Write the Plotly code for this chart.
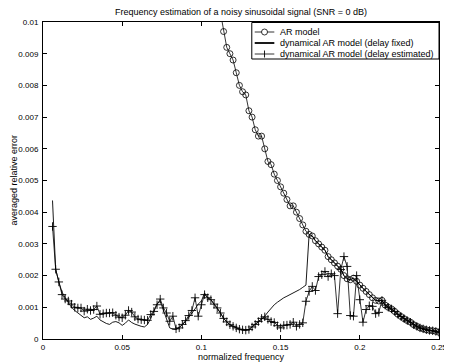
import plotly.graph_objects as go

# ---------------- data ----------------
step = 0.002

ar_start = 0.112
ar_err = [0.0103, 0.0097, 0.0092, 0.0090, 0.0088, 0.0084, 0.0080, 0.0078, 0.0077, 0.0072,
          0.0070, 0.0066, 0.0064, 0.0064, 0.0060, 0.0056, 0.0055, 0.0052, 0.0050, 0.0048,
          0.0046, 0.0044, 0.0042, 0.0042, 0.0040, 0.0038, 0.0036, 0.0034, 0.0033, 0.00325,
          0.0031, 0.0030, 0.0029, 0.0028, 0.0026, 0.0025, 0.0024, 0.0023, 0.0022, 0.0020,
          0.0019, 0.00187, 0.00192, 0.00182, 0.0017, 0.0016, 0.0015, 0.0014, 0.0013, 0.00122,
          0.0012, 0.00122, 0.00107, 0.0010, 0.00095, 0.00087, 0.00078, 0.00071, 0.00064, 0.00058,
          0.00053, 0.00045, 0.0004, 0.00035, 0.00032, 0.00029, 0.00027, 0.00026, 0.00024, 0.00021]

fixed_start = 0.006
fixed_err = [0.00437, 0.0022, 0.0018, 0.00148, 0.0013, 0.00115, 0.001, 0.0009, 0.00082, 0.00072,
             0.00067, 0.0007, 0.00062, 0.00066, 0.00072, 0.0006, 0.00054, 0.00049, 0.00046, 0.00053,
             0.00055, 0.00051, 0.00043, 0.0005, 0.0006, 0.00052, 0.00047, 0.00043, 0.0004, 0.00038,
             0.00046, 0.00065, 0.0009, 0.00112, 0.00119, 0.0009, 0.00062, 0.00035, 0.00031, 0.0003,
             0.00037, 0.00045, 0.00055, 0.00068, 0.0008, 0.00095, 0.0011, 0.0012, 0.00145, 0.0013,
             0.00124, 0.0011, 0.00098, 0.00082, 0.00065, 0.00054, 0.00045, 0.0004, 0.00035, 0.00031,
             0.00029, 0.00028, 0.0003, 0.00038, 0.00046, 0.00055, 0.00065, 0.00072, 0.00085, 0.00098,
             0.00108, 0.00116, 0.00124, 0.0013, 0.00135, 0.0014, 0.00144, 0.0015, 0.00156, 0.00163,
             0.0017]
# beyond 0.166 the fixed-delay model coincides with the AR model
fixed_join = 0.168

est_start = 0.006
est_err = [0.00355, 0.0022, 0.0018, 0.0014, 0.00126, 0.0012, 0.0011, 0.001, 0.00098, 0.00098,
           0.00088, 0.00094, 0.0009, 0.00093, 0.00104, 0.00078, 0.0008, 0.00082, 0.00082, 0.00083,
           0.00075, 0.00069, 0.00067, 0.00075, 0.0009, 0.00085, 0.0007, 0.00063, 0.00061, 0.0006,
           0.00059, 0.00077, 0.00087, 0.00108, 0.00126, 0.00098, 0.00082, 0.00056, 0.00072, 0.00032,
           0.00035, 0.00046, 0.00058, 0.00074, 0.0009, 0.0013, 0.00072, 0.00108, 0.0014, 0.0013,
           0.00124, 0.0011, 0.00098, 0.00082, 0.00065, 0.00054, 0.00045, 0.0004, 0.00035, 0.00031,
           0.00029, 0.00028, 0.0003, 0.00038, 0.00046, 0.00055, 0.00065, 0.0007, 0.00062, 0.00055,
           0.00052, 0.00042, 0.00035, 0.00043, 0.00044, 0.00046, 0.00053, 0.0004, 0.00046, 0.00051,
           0.00119, 0.0015, 0.00166, 0.00153, 0.00197, 0.00203, 0.00213, 0.00197, 0.00206, 0.002,
           0.0008, 0.00219, 0.0026, 0.00229, 0.00074, 0.00072, 0.002, 0.00124, 0.00053, 0.00093,
           0.00105, 0.00103, 0.0008, 0.00084]
# beyond 0.212 the estimated-delay model coincides with the AR model
est_join = 0.214

x_ticks = [0, 0.05, 0.1, 0.15, 0.2, 0.25]
x_ticklabels = ["0", "0.05", "0.1", "0.15", "0.2", "0.25"]
y_ticks = [0, 0.001, 0.002, 0.003, 0.004, 0.005, 0.006, 0.007, 0.008, 0.009, 0.01]
y_ticklabels = ["0", "0.001", "0.002", "0.003", "0.004", "0.005", "0.006",
                "0.007", "0.008", "0.009", "0.01"]

title = "Frequency estimation of a noisy sinusoidal signal (SNR = 0 dB)"
xlabel = "normalized frequency"
ylabel = "averaged relative error"
names = ["AR model", "dynamical AR model (delay fixed)", "dynamical AR model (delay estimated)"]

# ---------------- build series ----------------
def grid(start, n):
    return [round(start + step * i, 4) for i in range(n)]

ar_f = grid(ar_start, len(ar_err))

def join_ar(start, vals, join):
    f = grid(start, len(vals))
    k = round((join - ar_start) / step)
    return f + ar_f[k:], vals + ar_err[k:]

fixed_f, fixed_v = join_ar(fixed_start, fixed_err, fixed_join)
est_f, est_v = join_ar(est_start, est_err, est_join)

FONT = "Liberation Sans, Arial, Helvetica, sans-serif"
OFF = 8                       # page body margin
W, H = 452 - OFF, 362 - OFF   # figure size
L, R, T, B = 35, 5, 14, 23
PW, PH = W - L - R, H - T - B


def px(xp):  # page pixel x -> paper
    return (xp - OFF - L) / PW


def py(yp):  # page pixel y -> paper
    return (OFF + H - B - yp) / PH


fig = go.Figure()
fig.add_trace(go.Scatter(x=ar_f, y=ar_err, mode="lines+markers", name=names[0],
                         line=dict(color="black", width=0.8),
                         marker=dict(symbol="circle-open", size=6, color="black",
                                     line=dict(width=0.8, color="black")),
                         showlegend=False))
fig.add_trace(go.Scatter(x=fixed_f, y=fixed_v, mode="lines", name=names[1],
                         line=dict(color="black", width=0.9),
                         showlegend=False))
fig.add_trace(go.Scatter(x=est_f, y=est_v, mode="lines+markers", name=names[2],
                         line=dict(color="black", width=0.8),
                         marker=dict(symbol="cross-thin-open", size=6, color="black",
                                     line=dict(width=0.9, color="black")),
                         showlegend=False))

axis_common = dict(showline=True, linecolor="black", linewidth=1, mirror="ticks",
                   ticks="inside", ticklen=4, tickwidth=1, tickcolor="black",
                   showgrid=False, zeroline=False, ticklabeloverflow="allow",
                   tickfont=dict(family=FONT, size=8, color="black"))

fig.update_xaxes(range=[0, 0.25], tickvals=x_ticks, ticktext=x_ticklabels, **axis_common)
fig.update_yaxes(range=[0, 0.01], tickvals=y_ticks, ticktext=y_ticklabels,
                 ticklabelstandoff=2, **axis_common)

# ---------------- custom legend ----------------
shapes = [dict(type="rect", xref="paper", yref="paper", x0=px(256), x1=px(447),
               y0=py(59), y1=py(22.5), line=dict(color="black", width=1),
               fillcolor="white", layer="above")]
annotations = []
rows = [32, 43, 54]
lx0, lx1, lm, lt = 259, 279, 269, 283
for i, yr in enumerate(rows):
    shapes.append(dict(type="line", xref="paper", yref="paper", x0=px(lx0), x1=px(lx1),
                       y0=py(yr), y1=py(yr),
                       line=dict(color="black", width=1.8 if i == 1 else 0.8), layer="above"))
    annotations.append(dict(text=names[i], xref="paper", yref="paper", x=px(lt), y=py(yr),
                            xanchor="left", yanchor="middle", showarrow=False,
                            font=dict(family=FONT, size=9, color="black")))
# legend symbols
shapes.append(dict(type="circle", xref="paper", yref="paper", xsizemode="pixel",
                   ysizemode="pixel", xanchor=px(lm), yanchor=py(rows[0]),
                   x0=-3, x1=3, y0=-3, y1=3, line=dict(color="black", width=0.8),
                   fillcolor="white", layer="above"))
shapes.append(dict(type="line", xref="paper", yref="paper", xsizemode="pixel",
                   ysizemode="pixel", xanchor=px(lm), yanchor=py(rows[2]),
                   x0=0, x1=0, y0=-3.5, y1=3.5, line=dict(color="black", width=0.9),
                   layer="above"))

annotations.append(dict(text=xlabel, xref="paper", yref="paper", x=px(245), y=py(357),
                        xanchor="center", yanchor="middle", showarrow=False,
                        font=dict(family=FONT, size=9, color="black")))
annotations.append(dict(text=ylabel, xref="paper", yref="paper", x=px(12.5), y=0.5,
                        xanchor="center", yanchor="middle", showarrow=False, textangle=-90,
                        font=dict(family=FONT, size=9, color="black")))

fig.update_layout(
    width=W, height=H,
    margin=dict(l=L, r=R, t=T, b=B, pad=0),
    paper_bgcolor="white", plot_bgcolor="white",
    title=dict(text=title, x=px(245), xref="paper", xanchor="center",
               y=1 - (12 - OFF) / H, yref="container", yanchor="middle",
               font=dict(family=FONT, size=9, color="black")),
    shapes=shapes, annotations=annotations,
    showlegend=False,
)

fig.write_html("out.html")
